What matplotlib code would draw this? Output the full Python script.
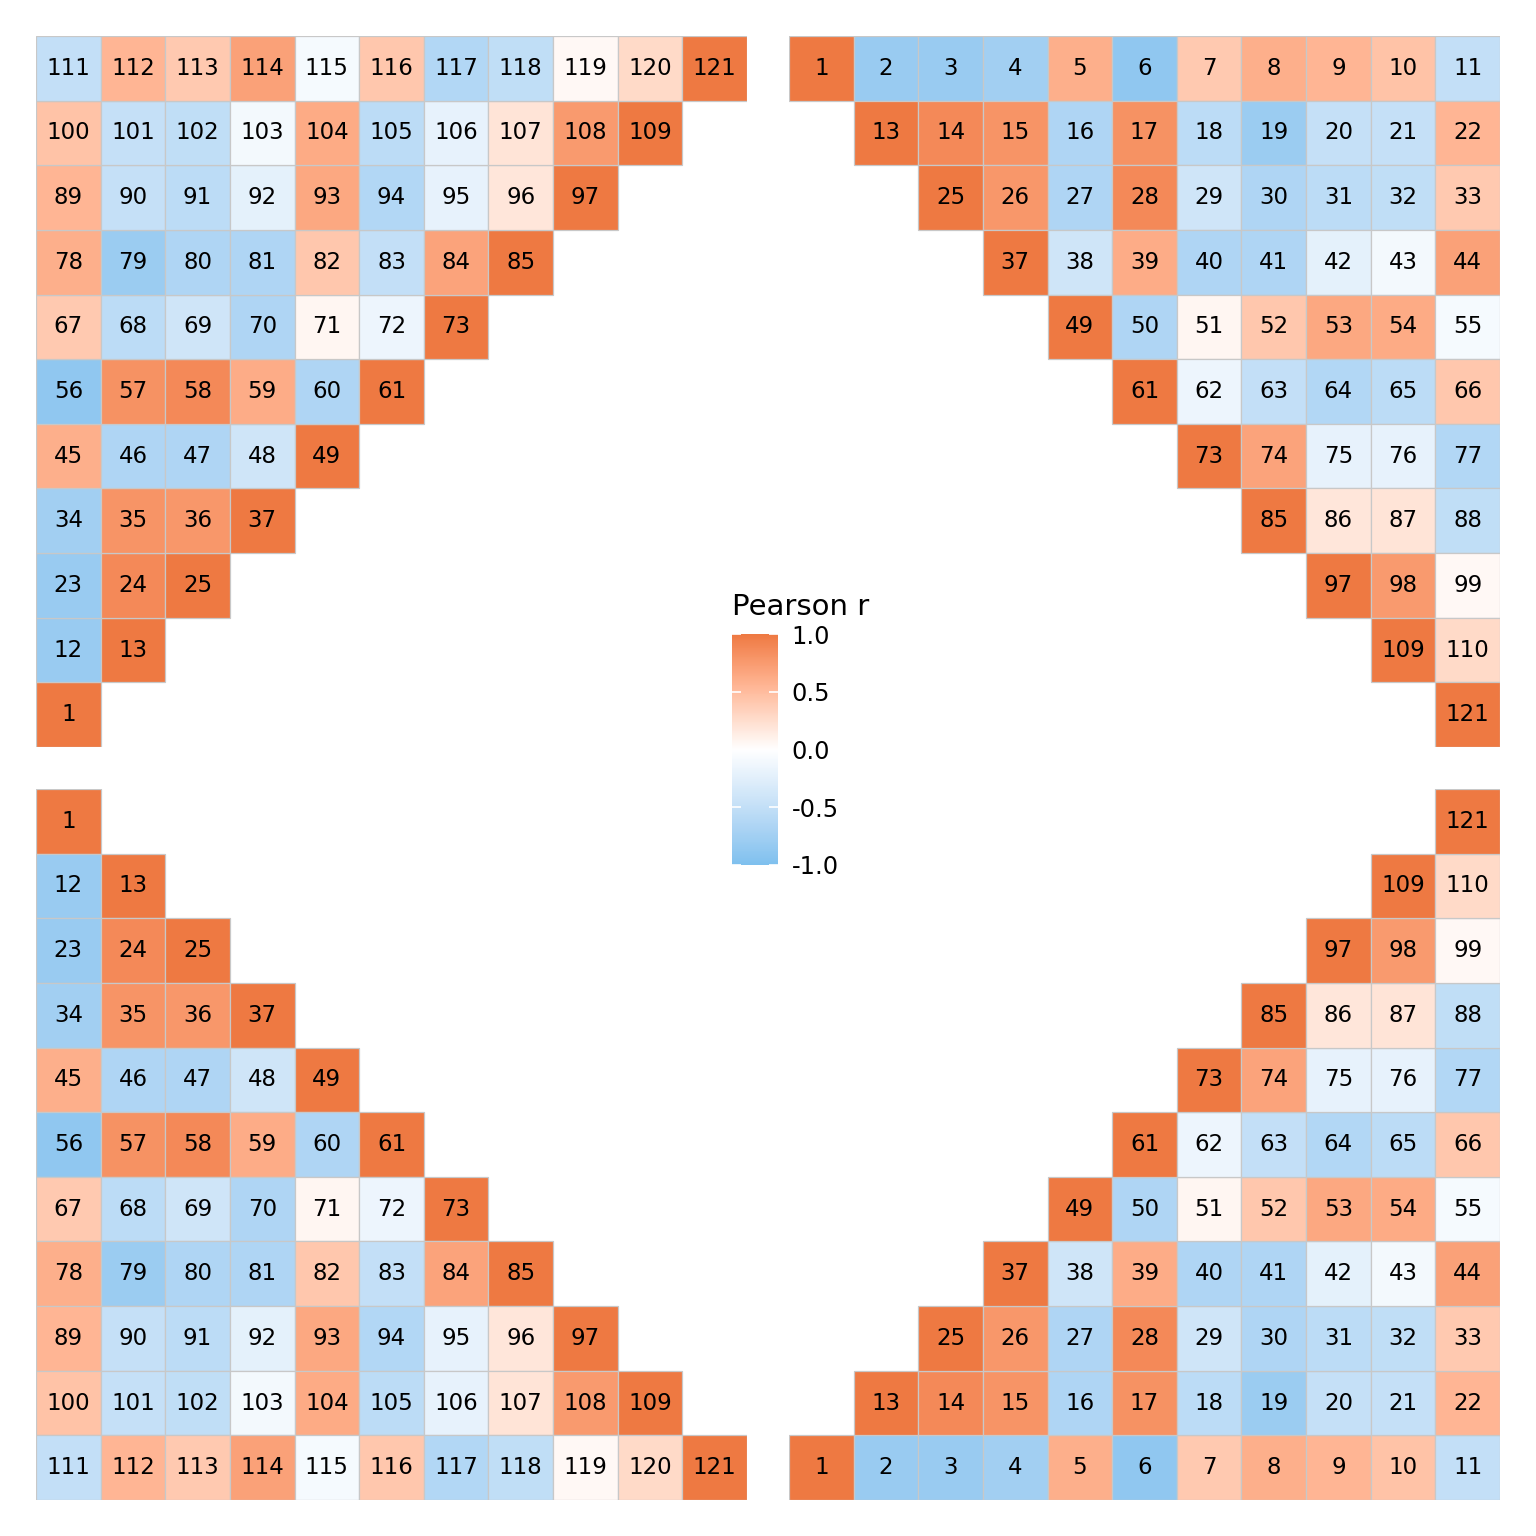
import numpy as np
import matplotlib
matplotlib.use("Agg")
import matplotlib.pyplot as plt
from matplotlib.colors import ListedColormap, Normalize
from matplotlib.patches import Rectangle
from matplotlib.cm import ScalarMappable

# upper-triangle Pearson r, row i holds columns i+1 .. 11
r_row1 = [-0.82, -0.82, -0.75, 0.60, -0.88, 0.40, 0.60, 0.55, 0.45, -0.50]
r_row2 = [0.88, 0.80, -0.65, 0.82, -0.55, -0.80, -0.48, -0.48, 0.55]
r_row3 = [0.78, -0.65, 0.88, -0.40, -0.65, -0.55, -0.52, 0.40]
r_row4 = [-0.40, 0.62, -0.65, -0.65, -0.22, -0.10, 0.70]
r_row5 = [-0.65, 0.07, 0.42, 0.65, 0.63, -0.08]
r_row6 = [-0.15, -0.50, -0.63, -0.55, 0.42]
r_row7 = [0.68, -0.20, -0.20, -0.63]
r_row8 = [0.18, 0.20, -0.52]
r_row9 = [0.75, 0.05]
r_row10 = [0.28]
legend_ticks = [-1.0, -0.5, 0.0, 0.5, 1.0]

N = 11
upper_rows = [r_row1, r_row2, r_row3, r_row4, r_row5, r_row6, r_row7,
              r_row8, r_row9, r_row10]
corr = np.eye(N)
for i, row in enumerate(upper_rows):
    for k, v in enumerate(row):
        j = i + 1 + k
        corr[i, j] = v
        corr[j, i] = v


# --- gradient2 like colour scale, interpolated in Lab ---
def srgb_to_lab(rgb):
    c = np.asarray(rgb, float) / 255.0
    c = np.where(c <= 0.04045, c / 12.92, ((c + 0.055) / 1.055) ** 2.4)
    M = np.array([[0.4124, 0.3576, 0.1805],
                  [0.2126, 0.7152, 0.0722],
                  [0.0193, 0.1192, 0.9505]])
    xyz = M @ c / np.array([0.95047, 1.0, 1.08883])
    f = np.where(xyz > 0.008856, np.cbrt(xyz), 7.787 * xyz + 16 / 116)
    return np.array([116 * f[1] - 16, 500 * (f[0] - f[1]), 200 * (f[1] - f[2])])


def lab_to_srgb(lab):
    L, a, b = lab
    fy = (L + 16) / 116
    fx = fy + a / 500
    fz = fy - b / 200
    f = np.array([fx, fy, fz])
    xyz = np.where(f ** 3 > 0.008856, f ** 3, (f - 16 / 116) / 7.787)
    xyz = xyz * np.array([0.95047, 1.0, 1.08883])
    Minv = np.array([[3.2406, -1.5372, -0.4986],
                     [-0.9689, 1.8758, 0.0415],
                     [0.0557, -0.2040, 1.0570]])
    c = Minv @ xyz
    c = np.where(c <= 0.0031308, 12.92 * c, 1.055 * np.clip(c, 0, None) ** (1 / 2.4) - 0.055)
    return np.clip(c, 0, 1)


low = srgb_to_lab((126, 192, 238))   # skyblue2
mid = srgb_to_lab((255, 255, 255))
high = srgb_to_lab((238, 121, 66))   # sienna2
cols = []
for t in np.linspace(0, 1, 256):
    if t < 0.5:
        s = t / 0.5
        cols.append(lab_to_srgb(low + (mid - low) * s))
    else:
        s = (t - 0.5) / 0.5
        cols.append(lab_to_srgb(mid + (high - mid) * s))
cmap = ListedColormap(cols)
norm = Normalize(-1, 1)

fig = plt.figure(figsize=(10.24, 10.24), dpi=150)
W = 1536.0


def panel(x0, y0, lower, row1_top):
    ax = fig.add_axes([x0 / W, 1 - (y0 + 711) / W, 711 / W, 711 / W])
    for i in range(N):
        for j in range(N):
            if (lower and j > i) or (not lower and j < i):
                continue
            ax.add_patch(Rectangle((j + 0.5, i + 0.5), 1, 1,
                                   facecolor=cmap(norm(corr[i, j])),
                                   edgecolor="#c8c8c8", linewidth=0.6))
            ax.text(j + 1, i + 1, str(N * i + j + 1), ha="center", va="center",
                    fontsize=11, color="black")
    ax.set_xlim(0.5, N + 0.5)
    if row1_top:
        ax.set_ylim(N + 0.5, 0.5)
    else:
        ax.set_ylim(0.5, N + 0.5)
    ax.axis("off")


panel(36, 36, lower=True, row1_top=False)
panel(789, 36, lower=False, row1_top=True)
panel(36, 789, lower=True, row1_top=True)
panel(789, 789, lower=False, row1_top=False)

# legend
cax = fig.add_axes([732 / W, 1 - 865 / W, 46 / W, 231 / W])
cb = fig.colorbar(ScalarMappable(norm=norm, cmap=cmap), cax=cax)
cb.outline.set_visible(False)
cb.set_ticks(legend_ticks)
cb.set_ticklabels(["%.1f" % t for t in legend_ticks])
cax.tick_params(length=0, pad=6.5, labelsize=11.5)
for t in legend_ticks:
    cax.hlines(t, 0, 0.2, color="white", linewidth=0.8)
    cax.hlines(t, 0.8, 1, color="white", linewidth=0.8)
fig.text(732 / W, 1 - 607 / W, "Pearson r", fontsize=14, ha="left", va="center")

fig.savefig("out.png", dpi=150, facecolor="white")
